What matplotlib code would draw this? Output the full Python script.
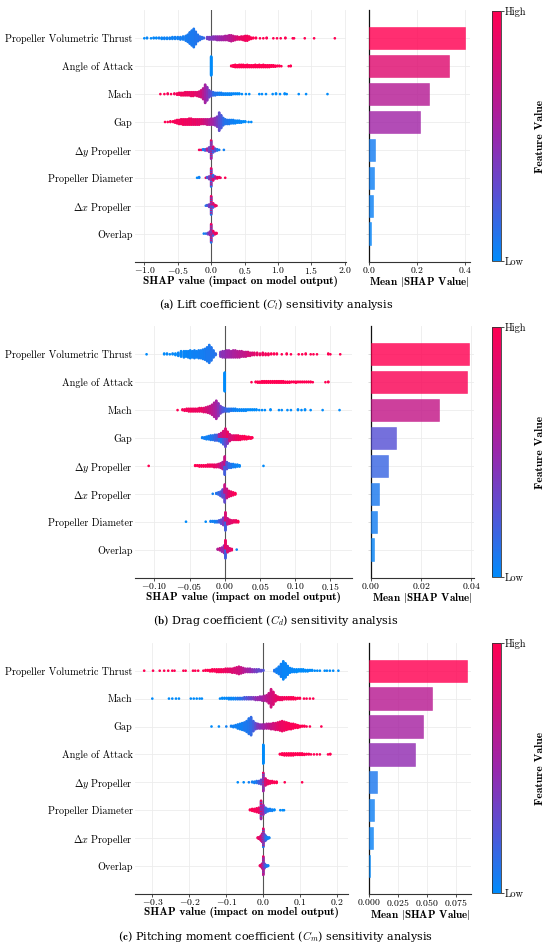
import numpy as np
import matplotlib
matplotlib.use('Agg')
import matplotlib.pyplot as plt
from matplotlib.colors import LinearSegmentedColormap, Normalize
from matplotlib.cm import ScalarMappable

plt.rcParams['font.family'] = 'cmr10'
plt.rcParams['mathtext.fontset'] = 'cm'
plt.rcParams['axes.formatter.use_mathtext'] = True

# swarm rows are lists of (shap value, number of samples, feature value 0..1)

# ---- (a) lift coefficient ----
lift_features = ['Propeller Volumetric Thrust', 'Angle of Attack', 'Mach', 'Gap',
                 r'$\Delta y$ Propeller', 'Propeller Diameter', r'$\Delta x$ Propeller', 'Overlap']
lift_mean_abs = [0.403, 0.333, 0.252, 0.215, 0.026, 0.019, 0.016, 0.010]

lift_pvt = [(-1.00, 1, 0.0), (-0.96, 2, 0.02), (-0.90, 1, 0.0), (-0.86, 2, 0.03), (-0.82, 2, 0.0),
            (-0.78, 2, 0.05), (-0.74, 3, 0.02), (-0.70, 3, 0.05), (-0.66, 3, 0.03), (-0.62, 3, 0.05),
            (-0.58, 4, 0.04), (-0.54, 4, 0.05), (-0.50, 4, 0.05), (-0.46, 5, 0.06), (-0.42, 6, 0.06),
            (-0.38, 9, 0.07), (-0.35, 13, 0.07), (-0.32, 20, 0.08), (-0.29, 26, 0.08), (-0.26, 32, 0.08),
            (-0.23, 22, 0.1), (-0.20, 12, 0.1), (-0.17, 7, 0.12), (-0.14, 4, 0.12), (-0.11, 2, 0.15),
            (-0.06, 4, 0.35), (-0.03, 5, 0.38), (0.00, 5, 0.40), (0.03, 6, 0.42), (0.06, 6, 0.45),
            (0.09, 7, 0.48), (0.12, 7, 0.50), (0.15, 7, 0.52), (0.18, 7, 0.55), (0.21, 8, 0.58),
            (0.24, 8, 0.60), (0.27, 10, 0.62), (0.30, 11, 0.65), (0.33, 9, 0.70), (0.36, 7, 0.75),
            (0.39, 6, 0.80), (0.42, 5, 0.85), (0.45, 6, 0.88), (0.48, 7, 0.90), (0.51, 9, 0.92),
            (0.54, 9, 0.95), (0.57, 6, 0.95), (0.60, 3, 1.0), (0.63, 2, 1.0), (0.67, 2, 1.0),
            (0.73, 1, 1.0), (0.78, 1, 1.0), (0.83, 2, 1.0), (0.93, 1, 1.0), (0.985, 1, 1.0),
            (1.04, 1, 1.0), (1.11, 2, 1.0), (1.22, 1, 1.0), (1.24, 1, 1.0), (1.40, 1, 1.0),
            (1.54, 1, 1.0), (1.85, 1, 1.0)]
lift_aoa = [(0.00, 42, 0.0),
            (0.30, 2, 1.0), (0.33, 4, 1.0), (0.36, 6, 1.0), (0.39, 5, 1.0), (0.42, 6, 1.0),
            (0.45, 6, 1.0), (0.48, 6, 1.0), (0.51, 5, 1.0), (0.54, 6, 1.0), (0.57, 5, 1.0),
            (0.60, 5, 1.0), (0.63, 5, 1.0), (0.66, 6, 1.0), (0.69, 5, 1.0), (0.72, 6, 1.0),
            (0.75, 5, 1.0), (0.78, 6, 1.0), (0.81, 5, 1.0), (0.84, 5, 1.0), (0.87, 5, 1.0),
            (0.90, 4, 1.0), (0.93, 4, 1.0), (0.96, 3, 1.0), (0.99, 2, 1.0), (1.02, 2, 1.0),
            (1.05, 1, 1.0), (1.16, 1, 1.0), (1.19, 2, 1.0)]
lift_mach = [(-0.76, 1, 1.0), (-0.70, 1, 1.0), (-0.65, 2, 0.95), (-0.60, 1, 1.0), (-0.55, 2, 0.95),
             (-0.51, 3, 0.95), (-0.48, 4, 0.95), (-0.45, 5, 0.92), (-0.42, 5, 0.95), (-0.39, 6, 0.9),
             (-0.36, 6, 0.92), (-0.33, 6, 0.9), (-0.30, 7, 0.88), (-0.27, 7, 0.9), (-0.24, 6, 0.85),
             (-0.21, 7, 0.85), (-0.18, 9, 0.8), (-0.15, 12, 0.75),
             (-0.12, 18, 0.65), (-0.09, 30, 0.55), (-0.06, 22, 0.45), (-0.03, 12, 0.35), (0.00, 8, 0.25),
             (0.03, 6, 0.15), (0.06, 5, 0.1), (0.09, 4, 0.1), (0.12, 4, 0.05), (0.15, 4, 0.05),
             (0.18, 3, 0.05), (0.21, 3, 0.03), (0.24, 3, 0.03), (0.27, 3, 0.03), (0.30, 3, 0.02),
             (0.33, 2, 0.02), (0.36, 2, 0.02), (0.39, 2, 0.0), (0.42, 2, 0.0), (0.46, 1, 0.0),
             (0.52, 1, 0.0), (0.57, 1, 0.0), (0.72, 1, 0.0), (0.76, 1, 0.0), (0.82, 1, 0.0),
             (0.92, 1, 0.0), (0.97, 2, 0.0), (1.03, 1, 0.0), (1.10, 2, 0.0), (1.13, 1, 0.0),
             (1.31, 1, 0.0), (1.42, 1, 0.0), (1.74, 1, 0.0)]
lift_gap = [(-0.69, 1, 1.0), (-0.65, 1, 1.0), (-0.61, 2, 0.95), (-0.57, 2, 1.0), (-0.54, 4, 0.95),
            (-0.51, 6, 0.95), (-0.48, 7, 0.95), (-0.45, 8, 0.92), (-0.42, 9, 0.95), (-0.39, 9, 0.9),
            (-0.36, 9, 0.92), (-0.33, 10, 0.9), (-0.30, 10, 0.92), (-0.27, 9, 0.88), (-0.24, 9, 0.9),
            (-0.21, 9, 0.85), (-0.18, 9, 0.88), (-0.15, 8, 0.82), (-0.12, 8, 0.78), (-0.09, 8, 0.72),
            (-0.06, 9, 0.68), (-0.03, 9, 0.62), (0.00, 10, 0.58), (0.03, 10, 0.52), (0.06, 12, 0.45),
            (0.09, 16, 0.38), (0.12, 28, 0.3), (0.15, 20, 0.22), (0.18, 12, 0.15), (0.21, 8, 0.1),
            (0.24, 7, 0.1), (0.27, 7, 0.08), (0.30, 6, 0.05), (0.33, 6, 0.05), (0.36, 5, 0.03),
            (0.39, 4, 0.03), (0.42, 4, 0.02), (0.45, 3, 0.02), (0.48, 2, 0.0), (0.51, 2, 0.0),
            (0.56, 1, 0.0), (0.60, 1, 0.0)]
lift_dy = [(-0.18, 1, 0.95), (-0.15, 1, 0.9), (-0.12, 2, 0.05), (-0.09, 3, 0.2), (-0.06, 4, 0.6),
           (-0.03, 8, 0.35), (0.00, 10, 0.9), (0.00, 10, 0.1), (0.00, 10, 0.5), (0.03, 5, 0.8),
           (0.03, 5, 0.2), (0.06, 5, 0.3), (0.09, 3, 0.1), (0.12, 1, 0.05), (0.19, 1, 0.05)]
lift_pd = [(-0.21, 1, 0.0), (-0.18, 2, 0.05), (-0.08, 1, 0.9), (-0.06, 2, 0.2), (-0.03, 5, 0.4),
           (0.00, 10, 0.1), (0.00, 10, 0.9), (0.00, 8, 0.5), (0.03, 5, 0.85), (0.03, 4, 0.15),
           (0.06, 4, 0.6), (0.09, 3, 0.9), (0.12, 2, 0.95), (0.14, 1, 0.9), (0.21, 1, 1.0)]
lift_dx = [(-0.08, 1, 0.1), (-0.06, 2, 0.2), (-0.03, 5, 0.4), (0.00, 12, 0.9), (0.00, 12, 0.1),
           (0.00, 8, 0.5), (0.03, 4, 0.8), (0.03, 4, 0.2), (0.06, 3, 0.9), (0.08, 1, 0.9)]
lift_overlap = [(-0.11, 1, 0.05), (-0.08, 1, 0.1), (-0.05, 3, 0.3), (-0.02, 6, 0.5), (0.00, 12, 0.9),
                (0.00, 10, 0.1), (0.00, 8, 0.6), (0.03, 5, 0.9), (0.03, 3, 0.2), (0.06, 3, 0.9),
                (0.08, 2, 0.95)]
lift_rows = [lift_pvt, lift_aoa, lift_mach, lift_gap, lift_dy, lift_pd, lift_dx, lift_overlap]

# ---- (b) drag coefficient ----
drag_features = ['Propeller Volumetric Thrust', 'Angle of Attack', 'Mach', 'Gap',
                 r'$\Delta y$ Propeller', r'$\Delta x$ Propeller', 'Propeller Diameter', 'Overlap']
drag_mean_abs = [0.0393, 0.0383, 0.0271, 0.0102, 0.0067, 0.0032, 0.0024, 0.0011]

drag_pvt = [(-0.111, 1, 0.0), (-0.086, 2, 0.0), (-0.082, 2, 0.02), (-0.078, 1, 0.0), (-0.074, 2, 0.02),
            (-0.070, 3, 0.0), (-0.066, 5, 0.03), (-0.062, 8, 0.02), (-0.058, 9, 0.03), (-0.055, 8, 0.02),
            (-0.052, 9, 0.04), (-0.049, 11, 0.03), (-0.046, 9, 0.04), (-0.043, 11, 0.05), (-0.040, 9, 0.04),
            (-0.037, 11, 0.05), (-0.034, 11, 0.06), (-0.031, 13, 0.06), (-0.028, 15, 0.07), (-0.025, 19, 0.08),
            (-0.022, 24, 0.08), (-0.019, 18, 0.1), (-0.016, 10, 0.1), (-0.013, 3, 0.12),
            (-0.006, 7, 0.4), (-0.003, 9, 0.45), (0.000, 9, 0.45), (0.003, 10, 0.5), (0.006, 10, 0.52),
            (0.009, 9, 0.55), (0.012, 10, 0.58), (0.015, 10, 0.6), (0.018, 9, 0.62), (0.021, 9, 0.64),
            (0.024, 8, 0.66), (0.027, 7, 0.68), (0.030, 7, 0.7), (0.033, 6, 0.75), (0.036, 5, 0.78),
            (0.039, 4, 0.8), (0.042, 4, 0.85), (0.046, 4, 0.88), (0.050, 3, 0.9), (0.054, 4, 0.92),
            (0.058, 3, 0.95), (0.062, 3, 0.95), (0.066, 2, 1.0), (0.070, 2, 1.0), (0.074, 2, 1.0),
            (0.081, 1, 1.0), (0.088, 2, 1.0), (0.094, 1, 1.0), (0.105, 1, 1.0), (0.110, 1, 1.0),
            (0.115, 2, 1.0), (0.122, 1, 1.0), (0.126, 1, 1.0), (0.131, 1, 1.0), (0.147, 2, 1.0),
            (0.150, 1, 1.0), (0.164, 1, 1.0)]
drag_aoa = [(0.000, 40, 0.0), (0.038, 1, 1.0), (0.044, 2, 1.0), (0.047, 3, 1.0), (0.050, 3, 1.0),
            (0.053, 4, 1.0), (0.056, 4, 1.0), (0.059, 4, 1.0), (0.062, 4, 1.0), (0.065, 4, 1.0),
            (0.068, 4, 1.0), (0.071, 4, 1.0), (0.074, 4, 1.0), (0.077, 4, 1.0), (0.080, 4, 1.0),
            (0.083, 4, 1.0), (0.086, 3, 1.0), (0.089, 3, 1.0), (0.092, 3, 1.0), (0.095, 2, 1.0),
            (0.098, 2, 1.0), (0.101, 3, 1.0), (0.104, 2, 1.0), (0.107, 2, 1.0), (0.110, 2, 1.0),
            (0.113, 2, 1.0), (0.116, 2, 1.0), (0.119, 2, 1.0), (0.122, 2, 1.0), (0.125, 1, 1.0),
            (0.143, 1, 1.0), (0.147, 2, 1.0)]
drag_mach = [(-0.067, 1, 1.0), (-0.060, 2, 0.95), (-0.057, 3, 0.95), (-0.054, 4, 0.95), (-0.051, 5, 0.92),
             (-0.048, 5, 0.95), (-0.045, 5, 0.92), (-0.042, 5, 0.9), (-0.039, 5, 0.92), (-0.036, 6, 0.9),
             (-0.033, 6, 0.9), (-0.030, 7, 0.85), (-0.027, 8, 0.8), (-0.024, 10, 0.75), (-0.021, 12, 0.7),
             (-0.018, 16, 0.65), (-0.015, 22, 0.6), (-0.012, 28, 0.55), (-0.009, 20, 0.45), (-0.006, 12, 0.35),
             (-0.003, 8, 0.25), (0.000, 6, 0.2), (0.003, 5, 0.15), (0.006, 5, 0.1), (0.009, 4, 0.1),
             (0.012, 4, 0.05), (0.015, 4, 0.05), (0.018, 3, 0.03), (0.021, 3, 0.03), (0.024, 3, 0.02),
             (0.027, 3, 0.02), (0.030, 3, 0.02), (0.033, 2, 0.0), (0.036, 2, 0.0), (0.039, 2, 0.0),
             (0.042, 2, 0.0), (0.045, 2, 0.0), (0.049, 1, 0.0), (0.053, 1, 0.0), (0.057, 1, 0.0),
             (0.065, 2, 0.0), (0.077, 1, 0.0), (0.081, 1, 0.0), (0.089, 1, 0.0), (0.094, 1, 0.0),
             (0.104, 2, 0.0), (0.109, 1, 0.0), (0.114, 2, 0.0), (0.122, 1, 0.0), (0.139, 1, 0.0),
             (0.163, 1, 0.0)]
drag_gap = [(-0.032, 2, 0.05), (-0.029, 3, 0.05), (-0.026, 5, 0.05), (-0.023, 6, 0.05), (-0.020, 8, 0.08),
            (-0.017, 8, 0.1), (-0.014, 10, 0.15), (-0.011, 10, 0.2), (-0.008, 6, 0.1), (-0.008, 6, 0.6),
            (-0.005, 8, 0.1), (-0.005, 8, 0.7), (-0.002, 11, 0.2), (-0.002, 11, 0.8), (0.001, 15, 0.3),
            (0.001, 15, 0.8), (0.004, 10, 0.4), (0.004, 10, 0.9), (0.007, 12, 0.75), (0.010, 8, 0.8),
            (0.013, 8, 0.85), (0.016, 8, 0.9), (0.019, 8, 0.92), (0.022, 7, 0.95), (0.025, 6, 0.95),
            (0.028, 6, 1.0), (0.031, 5, 1.0), (0.034, 4, 1.0), (0.037, 3, 1.0), (0.039, 2, 1.0)]
drag_dy = [(-0.108, 1, 1.0), (-0.042, 2, 1.0), (-0.039, 2, 1.0), (-0.036, 3, 1.0), (-0.033, 3, 0.95),
           (-0.030, 3, 1.0), (-0.027, 3, 0.95), (-0.024, 4, 0.95), (-0.021, 4, 0.95), (-0.018, 4, 0.92),
           (-0.015, 5, 0.9), (-0.012, 5, 0.85), (-0.009, 6, 0.8), (-0.006, 8, 0.7), (-0.003, 12, 0.6),
           (0.000, 15, 0.2), (0.000, 15, 0.7), (0.003, 12, 0.25), (0.006, 8, 0.15), (0.009, 7, 0.1),
           (0.012, 6, 0.05), (0.015, 5, 0.05), (0.018, 4, 0.03), (0.021, 3, 0.02), (0.055, 1, 0.0)]
drag_dx = [(-0.017, 1, 0.05), (-0.012, 2, 0.1), (-0.009, 4, 0.15), (-0.006, 7, 0.2), (-0.003, 12, 0.3),
           (0.000, 13, 0.3), (0.000, 13, 0.7), (0.003, 14, 0.7), (0.006, 9, 0.85), (0.009, 7, 0.9),
           (0.012, 5, 0.95), (0.015, 3, 1.0)]
drag_pd = [(-0.055, 1, 0.0), (-0.027, 1, 0.0), (-0.020, 2, 0.05), (-0.017, 2, 0.05), (-0.014, 3, 0.05),
           (-0.011, 3, 0.1), (-0.008, 4, 0.2), (-0.005, 7, 0.3), (-0.002, 12, 0.4), (0.001, 14, 0.2),
           (0.001, 14, 0.8), (0.004, 10, 0.7), (0.007, 7, 0.8), (0.010, 5, 0.85), (0.013, 4, 0.9),
           (0.016, 4, 0.9), (0.019, 3, 1.0)]
drag_overlap = [(-0.010, 2, 0.6), (-0.007, 4, 0.7), (-0.004, 7, 0.5), (-0.001, 12, 0.5), (0.001, 14, 0.9),
                (0.001, 14, 0.2), (0.004, 10, 0.8), (0.007, 5, 0.8), (0.010, 3, 0.9), (0.017, 1, 0.05)]
drag_rows = [drag_pvt, drag_aoa, drag_mach, drag_gap, drag_dy, drag_dx, drag_pd, drag_overlap]

# ---- (c) pitching moment coefficient ----
moment_features = ['Propeller Volumetric Thrust', 'Mach', 'Gap', 'Angle of Attack',
                   r'$\Delta y$ Propeller', 'Propeller Diameter', r'$\Delta x$ Propeller', 'Overlap']
moment_mean_abs = [0.0844, 0.054, 0.047, 0.0398, 0.0073, 0.0046, 0.0031, 0.0009]

moment_pvt = [(-0.322, 1, 1.0), (-0.298, 1, 1.0), (-0.280, 1, 1.0), (-0.268, 1, 1.0), (-0.257, 1, 1.0),
              (-0.246, 1, 1.0), (-0.240, 1, 1.0), (-0.216, 1, 1.0), (-0.210, 1, 1.0), (-0.190, 1, 1.0),
              (-0.184, 1, 1.0), (-0.176, 1, 1.0), (-0.162, 1, 1.0), (-0.156, 2, 1.0), (-0.150, 2, 1.0),
              (-0.144, 3, 1.0), (-0.138, 4, 1.0), (-0.132, 4, 0.97), (-0.126, 5, 0.97), (-0.120, 5, 0.95),
              (-0.114, 5, 0.95), (-0.108, 5, 0.92), (-0.102, 6, 0.9), (-0.096, 6, 0.88), (-0.090, 6, 0.85),
              (-0.084, 7, 0.82), (-0.078, 8, 0.8), (-0.072, 10, 0.78), (-0.066, 12, 0.75), (-0.060, 10, 0.7),
              (-0.054, 8, 0.65), (-0.048, 6, 0.6), (-0.042, 6, 0.55), (-0.036, 6, 0.5), (-0.030, 5, 0.45),
              (-0.024, 5, 0.4), (-0.018, 5, 0.35), (-0.012, 4, 0.3), (-0.006, 3, 0.3), (0.000, 2, 0.25),
              (0.030, 3, 0.1), (0.036, 7, 0.05), (0.042, 12, 0.05), (0.048, 20, 0.05), (0.054, 28, 0.03),
              (0.060, 22, 0.03), (0.066, 14, 0.03), (0.072, 8, 0.02), (0.078, 6, 0.02), (0.084, 5, 0.02),
              (0.090, 5, 0.0), (0.096, 4, 0.0), (0.102, 4, 0.0), (0.108, 4, 0.0), (0.114, 3, 0.0),
              (0.120, 3, 0.0), (0.126, 2, 0.0), (0.132, 2, 0.0), (0.139, 1, 0.0), (0.146, 1, 0.0),
              (0.153, 1, 0.0), (0.166, 1, 0.0), (0.172, 1, 0.0), (0.180, 1, 0.0), (0.189, 1, 0.0),
              (0.203, 1, 0.0)]
moment_mach = [(-0.300, 1, 0.0), (-0.255, 1, 0.0), (-0.246, 1, 0.0), (-0.236, 1, 0.0), (-0.228, 1, 0.0),
               (-0.196, 1, 0.0), (-0.188, 1, 0.0), (-0.180, 1, 0.0), (-0.172, 1, 0.0), (-0.166, 1, 0.0),
               (-0.117, 1, 0.0), (-0.111, 2, 0.0), (-0.105, 2, 0.0), (-0.099, 2, 0.02), (-0.093, 3, 0.02),
               (-0.087, 3, 0.03), (-0.081, 3, 0.03), (-0.075, 3, 0.05), (-0.069, 3, 0.1), (-0.063, 3, 0.1),
               (-0.057, 3, 0.15), (-0.051, 4, 0.2), (-0.045, 4, 0.25), (-0.039, 4, 0.3), (-0.033, 4, 0.35),
               (-0.027, 4, 0.4), (-0.021, 5, 0.45), (-0.015, 5, 0.5), (-0.009, 6, 0.5), (-0.003, 7, 0.55),
               (0.003, 8, 0.6), (0.009, 10, 0.65), (0.015, 16, 0.7), (0.021, 28, 0.75), (0.027, 20, 0.8),
               (0.033, 10, 0.85), (0.039, 6, 0.9), (0.045, 5, 0.9), (0.051, 5, 0.92), (0.057, 4, 0.95),
               (0.063, 4, 0.95), (0.069, 4, 0.97), (0.075, 4, 0.97), (0.081, 4, 1.0), (0.087, 3, 1.0),
               (0.093, 2, 1.0), (0.099, 2, 1.0), (0.110, 1, 1.0), (0.117, 1, 1.0), (0.126, 1, 1.0),
               (0.135, 1, 1.0)]
moment_gap = [(-0.140, 1, 0.0), (-0.120, 1, 0.0), (-0.100, 1, 0.05), (-0.087, 2, 0.05), (-0.081, 3, 0.05),
              (-0.075, 4, 0.05), (-0.069, 7, 0.05), (-0.063, 9, 0.05), (-0.057, 11, 0.05), (-0.051, 13, 0.08),
              (-0.045, 17, 0.08), (-0.039, 24, 0.1), (-0.033, 28, 0.15), (-0.027, 16, 0.2), (-0.021, 10, 0.3),
              (-0.015, 8, 0.4), (-0.009, 7, 0.45), (-0.003, 7, 0.5), (0.003, 7, 0.55), (0.009, 8, 0.6),
              (0.015, 8, 0.65), (0.021, 9, 0.7), (0.027, 10, 0.75), (0.033, 11, 0.8), (0.039, 12, 0.85),
              (0.045, 14, 0.88), (0.051, 16, 0.9), (0.057, 14, 0.92), (0.063, 12, 0.95), (0.069, 10, 0.95),
              (0.075, 9, 0.97), (0.081, 8, 0.97), (0.087, 6, 1.0), (0.093, 5, 1.0), (0.099, 3, 1.0),
              (0.105, 2, 1.0), (0.111, 2, 1.0), (0.117, 1, 1.0), (0.126, 1, 1.0), (0.157, 1, 1.0)]
moment_aoa = [(0.000, 40, 0.0), (0.045, 2, 1.0), (0.051, 4, 1.0), (0.057, 5, 1.0), (0.063, 5, 1.0),
              (0.069, 5, 1.0), (0.075, 5, 1.0), (0.081, 5, 1.0), (0.087, 4, 1.0), (0.093, 4, 1.0),
              (0.099, 4, 1.0), (0.105, 4, 1.0), (0.111, 3, 1.0), (0.117, 2, 1.0), (0.123, 2, 1.0),
              (0.129, 1, 1.0), (0.137, 1, 1.0), (0.145, 1, 1.0), (0.153, 1, 1.0), (0.175, 1, 1.0),
              (0.181, 2, 1.0)]
moment_dy = [(-0.069, 1, 0.0), (-0.053, 1, 0.0), (-0.039, 1, 0.05), (-0.030, 2, 0.05), (-0.024, 3, 0.05),
             (-0.018, 4, 0.1), (-0.012, 5, 0.2), (-0.006, 8, 0.3), (0.000, 10, 0.1), (0.000, 10, 0.9),
             (0.000, 10, 0.5), (0.006, 12, 0.8), (0.012, 7, 0.9), (0.018, 5, 0.95), (0.024, 4, 0.95),
             (0.030, 3, 1.0), (0.036, 3, 1.0), (0.058, 1, 1.0), (0.105, 1, 1.0)]
moment_pd = [(-0.036, 2, 1.0), (-0.030, 4, 1.0), (-0.024, 5, 0.95), (-0.018, 7, 0.95), (-0.012, 9, 0.9),
             (-0.006, 12, 0.9), (-0.006, 10, 0.5), (-0.006, 8, 0.2), (0.000, 16, 0.5), (0.006, 9, 0.2),
             (0.012, 5, 0.1), (0.018, 4, 0.05), (0.024, 3, 0.05), (0.030, 2, 0.0), (0.046, 1, 0.0),
             (0.052, 1, 0.0), (0.056, 1, 0.0)]
moment_dx = [(-0.015, 2, 0.9), (-0.012, 3, 0.9), (-0.009, 5, 0.85), (-0.006, 9, 0.8), (-0.003, 14, 0.6),
             (0.000, 12, 0.9), (0.000, 10, 0.1), (0.000, 8, 0.5), (0.003, 12, 0.4), (0.006, 9, 0.2),
             (0.009, 5, 0.1), (0.012, 3, 0.05), (0.016, 2, 0.05)]
moment_overlap = [(-0.009, 2, 0.9), (-0.006, 4, 0.9), (-0.003, 9, 0.7), (0.000, 12, 0.9), (0.000, 10, 0.2),
                  (0.000, 10, 0.6), (0.003, 9, 0.4), (0.006, 4, 0.2), (0.009, 3, 0.1), (0.013, 2, 0.05)]
moment_rows = [moment_pvt, moment_mach, moment_gap, moment_aoa, moment_dy, moment_pd, moment_dx, moment_overlap]

captions = [r'($\mathbf{a}$) Lift coefficient ($C_l$) sensitivity analysis',
            r'($\mathbf{b}$) Drag coefficient ($C_d$) sensitivity analysis',
            r'($\mathbf{c}$) Pitching moment coefficient ($C_m$) sensitivity analysis']

cmap = LinearSegmentedColormap.from_list(
    'shap_red_blue', ['#008bfb', '#5553d6', '#9a27ac', '#cf107c', '#ff0052'])

W, H = 550, 949
ROW = 27.9
fig = plt.figure(figsize=(W / 100, H / 100), dpi=100)


def px_axes(x0, x1, y_top, y_bot):
    return fig.add_axes([x0 / W, 1 - y_bot / H, (x1 - x0) / W, (y_bot - y_top) / H])


def swarm_layout(row):
    # shap-style stacking: samples sharing a value are piled up alternately above/below
    groups = {}
    for x, n, fv in row:
        groups.setdefault(x, []).append((n, fv))
    xs, ys, cs = [], [], []
    for x, items in groups.items():
        pts = sorted(((i + 0.5) / n, fv) for n, fv in items for i in range(n))
        for layer, (_, fv) in enumerate(pts):
            xs.append(x)
            ys.append(np.ceil(layer / 2) * ((layer % 2) * 2 - 1))
            cs.append(fv)
    ys = np.array(ys, dtype=float)
    ys *= 0.9 * 0.4 / (ys.max() + 1)
    return np.array(xs), ys, np.array(cs)


def draw_panel(y_top, sw_x1, bar_x0, bar_x1, features, rows, mean_abs,
               xlim, xticks, bar_xlim, bar_ticks, caption, cap_y):
    n = len(features)
    y_bot = y_top + (n + 1) * ROW
    pos = np.arange(n)[::-1]

    ax = px_axes(135.3, sw_x1, y_top, y_bot)
    ax.axvline(0, color='#555555', lw=0.8, zorder=2)
    for p, row in zip(pos, rows):
        xs, ys, cs = swarm_layout(row)
        ax.scatter(xs, p + ys, c=cs, cmap=cmap, vmin=0, vmax=1, s=3.6, linewidths=0, zorder=3)
    ax.set_ylim(-1, n)
    ax.set_yticks(pos)
    ax.set_yticklabels(features, fontsize=7.3)
    ax.set_xlim(xlim)
    ax.set_xticks(xticks)
    ax.grid(True, color='#ececec', lw=0.6)
    ax.set_axisbelow(True)
    for s in ['top', 'right', 'left']:
        ax.spines[s].set_visible(False)
    ax.spines['bottom'].set_color('#333333')
    ax.spines['bottom'].set_linewidth(0.8)
    ax.tick_params(axis='y', length=0, pad=2)
    ax.tick_params(axis='x', length=1.8, width=0.6, labelsize=7, pad=0.6, color='#333333')
    ax.set_xlabel('SHAP value (impact on model output)', fontsize=8.2, fontfamily='cmb10', labelpad=0)

    bx = px_axes(bar_x0, bar_x1, y_top, y_bot)
    vals = np.array(mean_abs)
    bcols = cmap(vals / vals.max())
    bx.barh(pos, vals, height=0.8, color=bcols, alpha=0.82, edgecolor=bcols, linewidth=0.4, zorder=3)
    bx.set_ylim(-1, n)
    bx.set_yticks(pos)
    bx.set_yticklabels([])
    bx.set_xlim(bar_xlim)
    bx.set_xticks(bar_ticks)
    bx.grid(True, color='#ececec', lw=0.6)
    bx.set_axisbelow(True)
    bx.spines['top'].set_visible(False)
    bx.spines['right'].set_visible(False)
    bx.spines['left'].set_color('#111111')
    bx.spines['left'].set_linewidth(0.9)
    bx.spines['bottom'].set_color('#333333')
    bx.spines['bottom'].set_linewidth(0.8)
    bx.tick_params(axis='y', length=2, width=0.5, color='#cccccc')
    bx.tick_params(axis='x', length=1.8, width=0.6, labelsize=7, pad=0.6, color='#333333')
    bx.set_xlabel(r'Mean $|$SHAP Value$|$', fontsize=8, fontfamily='cmb10', labelpad=0)

    cax = px_axes(492.3, 501, y_top + 0.6, y_bot - 0.6)
    cb = fig.colorbar(ScalarMappable(norm=Normalize(0, 1), cmap=cmap), cax=cax)
    cb.set_ticks([0, 1])
    cb.set_ticklabels(['Low', 'High'])
    cb.ax.tick_params(labelsize=7.5, length=2, width=0.5, pad=1)
    cb.outline.set_linewidth(0.6)
    cb.outline.set_edgecolor('#333333')
    fig.text(540 / W, 1 - (y_top + y_bot) / 2 / H, 'Feature Value', rotation=90,
             ha='center', va='center', fontsize=8.4, fontfamily='cmb10')

    fig.text(276 / W, 1 - cap_y / H, caption, ha='center', va='center',
             fontsize=8, fontfamily='DejaVu Serif')


draw_panel(10.4, 346.2, 369, 470, lift_features, lift_rows, lift_mean_abs,
           (-1.135, 2.02), [-1.0, -0.5, 0.0, 0.5, 1.0, 1.5, 2.0],
           (0, 0.4226), [0.0, 0.2, 0.4], captions[0], 304)
draw_panel(326.4, 351.5, 370.8, 473.8, drag_features, drag_rows, drag_mean_abs,
           (-0.127, 0.180), [-0.10, -0.05, 0.0, 0.05, 0.10, 0.15],
           (0, 0.0411), [0.0, 0.02, 0.04], captions[1], 620)
draw_panel(642.8, 348, 369, 471, moment_features, moment_rows, moment_mean_abs,
           (-0.346, 0.229), [-0.3, -0.2, -0.1, 0.0, 0.1, 0.2],
           (0, 0.088), [0.0, 0.025, 0.05, 0.075], captions[2], 936.7)

fig.savefig('out.png', dpi=100)
